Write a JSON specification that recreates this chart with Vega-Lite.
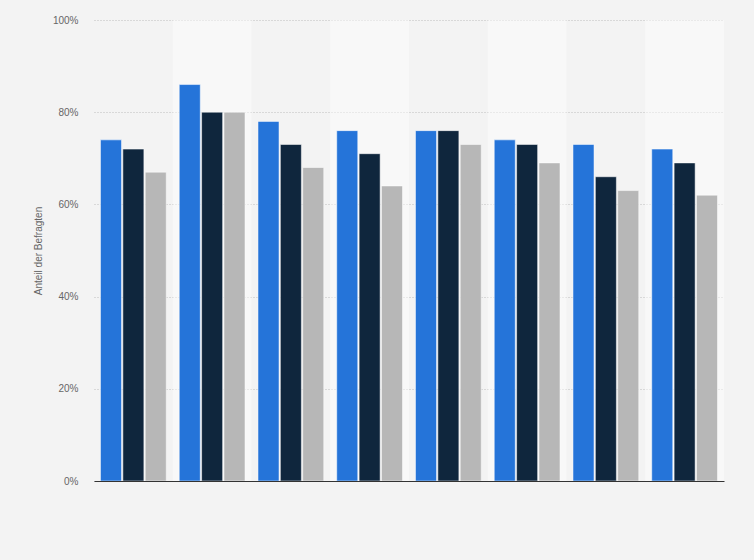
{
  "$schema": "https://vega.github.io/schema/vega-lite/v6.json",
  "width": 630,
  "height": 461,
  "autosize": {"type": "none"},
  "padding": {"left": 94, "top": 20, "right": 30, "bottom": 79},
  "background": "#f3f3f3",
  "config": {
    "view": {"stroke": null},
    "font": "Liberation Sans",
    "axisY": {
      "grid": true,
      "domain": false,
      "ticks": false,
      "labelColor": "#666666",
      "labelFontSize": 10,
      "labelPadding": 16,
      "gridColor": "#bdbdbd",
      "gridDash": [1, 2],
      "gridWidth": 1,
      "titleColor": "#666666",
      "titleFontSize": 10,
      "titleFontWeight": "normal",
      "titlePadding": 9
    }
  },
  "data": {
    "values": [
      {"gruppe": "1", "serie": "A", "wert": 0.74},
      {"gruppe": "1", "serie": "B", "wert": 0.72},
      {"gruppe": "1", "serie": "C", "wert": 0.67},
      {"gruppe": "2", "serie": "A", "wert": 0.86},
      {"gruppe": "2", "serie": "B", "wert": 0.80},
      {"gruppe": "2", "serie": "C", "wert": 0.80},
      {"gruppe": "3", "serie": "A", "wert": 0.78},
      {"gruppe": "3", "serie": "B", "wert": 0.73},
      {"gruppe": "3", "serie": "C", "wert": 0.68},
      {"gruppe": "4", "serie": "A", "wert": 0.76},
      {"gruppe": "4", "serie": "B", "wert": 0.71},
      {"gruppe": "4", "serie": "C", "wert": 0.64},
      {"gruppe": "5", "serie": "A", "wert": 0.76},
      {"gruppe": "5", "serie": "B", "wert": 0.76},
      {"gruppe": "5", "serie": "C", "wert": 0.73},
      {"gruppe": "6", "serie": "A", "wert": 0.74},
      {"gruppe": "6", "serie": "B", "wert": 0.73},
      {"gruppe": "6", "serie": "C", "wert": 0.69},
      {"gruppe": "7", "serie": "A", "wert": 0.73},
      {"gruppe": "7", "serie": "B", "wert": 0.66},
      {"gruppe": "7", "serie": "C", "wert": 0.63},
      {"gruppe": "8", "serie": "A", "wert": 0.72},
      {"gruppe": "8", "serie": "B", "wert": 0.69},
      {"gruppe": "8", "serie": "C", "wert": 0.62}
    ]
  },
  "encoding": {
    "x": {
      "field": "gruppe",
      "type": "nominal",
      "sort": ["1", "2", "3", "4", "5", "6", "7", "8"],
      "scale": {"paddingInner": 0, "paddingOuter": 0},
      "axis": {
        "title": null,
        "labels": false,
        "ticks": false,
        "grid": false,
        "domainColor": "#333333",
        "domainWidth": 1
      }
    }
  },
  "layer": [
    {
      "transform": [
        {"filter": "datum.serie == 'A' && indexof(['2','4','6','8'], datum.gruppe) >= 0"}
      ],
      "mark": {"type": "rect", "color": "#ffffff", "opacity": 0.45},
      "encoding": {
        "y": {
          "datum": 0,
          "type": "quantitative",
          "title": "Anteil der Befragten",
          "scale": {"domain": [0, 1]},
          "axis": {"format": ".0%", "values": [0, 0.2, 0.4, 0.6, 0.8, 1]}
        },
        "y2": {"datum": 1}
      }
    },
    {
      "mark": {"type": "bar", "stroke": "#ffffff", "strokeOpacity": 0.5, "strokeWidth": 1},
      "encoding": {
        "xOffset": {
          "field": "serie",
          "scale": {"paddingOuter": 0.29, "paddingInner": 0.06}
        },
        "y": {
          "field": "wert",
          "type": "quantitative",
          "title": "Anteil der Befragten",
          "scale": {"domain": [0, 1]},
          "axis": {"format": ".0%", "values": [0, 0.2, 0.4, 0.6, 0.8, 1]}
        },
        "color": {
          "field": "serie",
          "type": "nominal",
          "scale": {"range": ["#2574d9", "#0f263d", "#b7b7b7"]},
          "legend": null
        }
      }
    }
  ]
}
